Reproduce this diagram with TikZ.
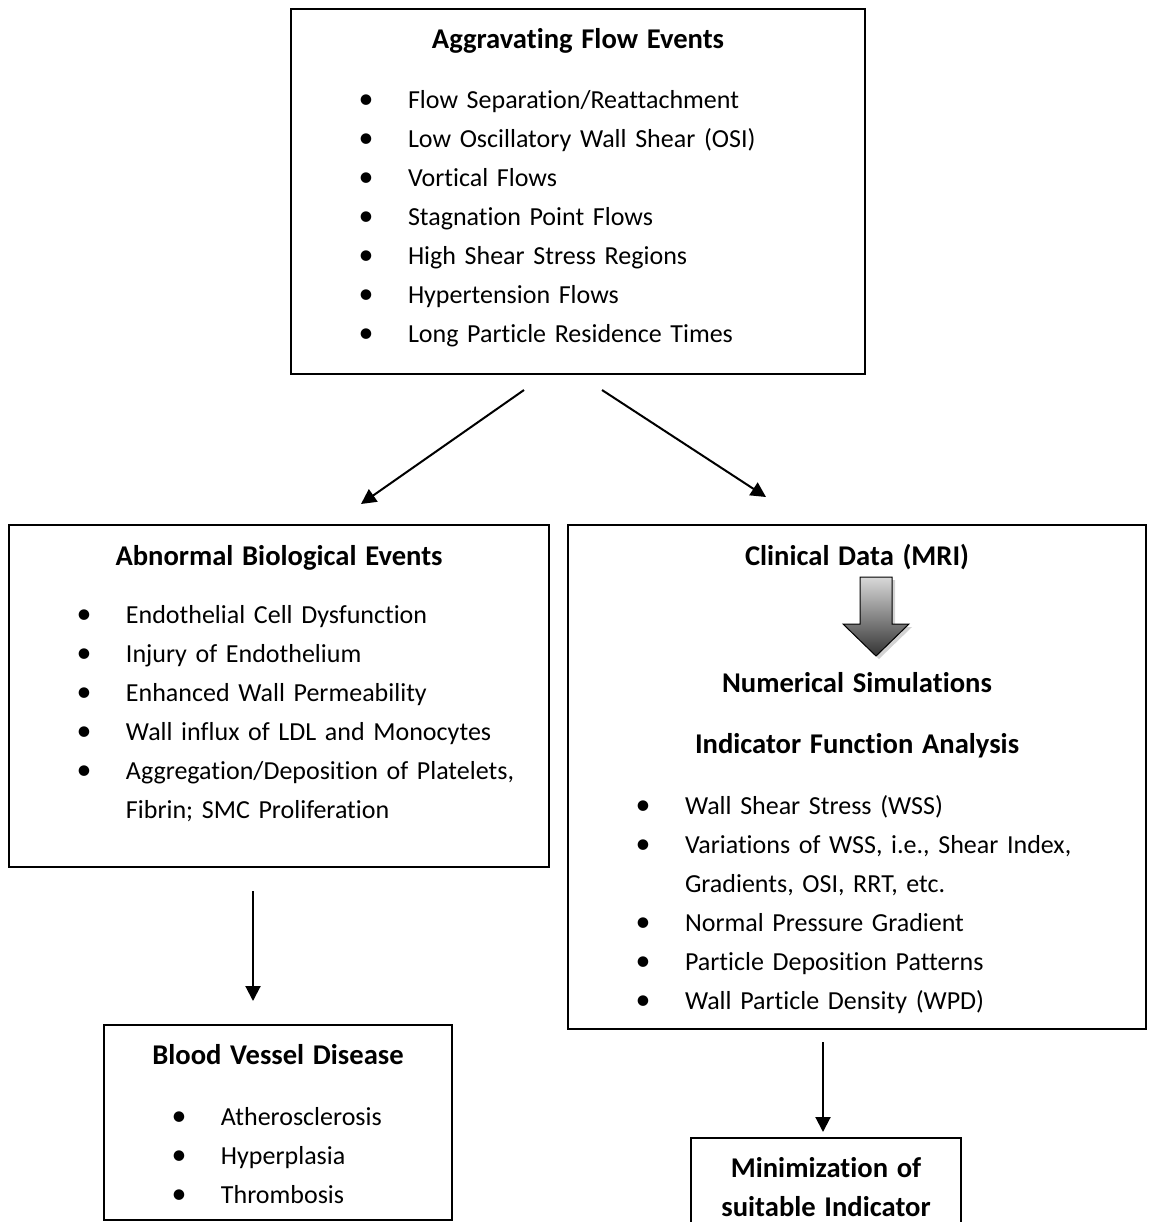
\documentclass[tikz,border=0pt]{standalone}
\usepackage{fontspec}
\setmainfont{Carlito}[Ligatures={NoCommon,NoRequired,NoContextual}]
\usetikzlibrary{arrows.meta,calc,shadows}

\newcommand{\boxtitle}[2]{{\centering\fontsize{14.3pt}{19.5pt}\selectfont\bfseries\rule{0pt}{#1}#2\par}}
\newcommand{\bitem}[1]{\par\noindent\hangindent=58.5pt\hangafter=1\hbox to 58.5pt{\hskip37.5pt\makebox[0pt]{\scalebox{1.15}{\textbullet}}\hfil}#1\par}
\newcommand{\boxend}[1]{\rule[-#1]{0pt}{#1}}

\tikzset{
  flowbox/.style={draw, line width=1pt, inner sep=0pt, anchor=north west,
    font={\fontsize{13pt}{19.5pt}\selectfont}},
  arr/.style={-{Triangle[length=7.5pt,width=7.5pt]}, line width=1pt},
  simarrow/.style={draw=black, line width=0.5pt, top color=black!15, bottom color=black!80,
    drop shadow={shadow xshift=1.5pt, shadow yshift=-1.5pt, opacity=0.35}}
}

\begin{document}
\begin{tikzpicture}[x=0.5pt, y=-0.5pt]
  \useasboundingbox (0,0) rectangle (1148,1222);

  \node[flowbox, text width=287pt] (flow) at (290,8)
  {
    \boxtitle{19.5pt}{Aggravating Flow Events}
    \vspace{10.5pt}
    \bitem{Flow Separation/Reattachment}
    \bitem{Low Oscillatory Wall Shear (OSI)}
    \bitem{Vortical Flows}
    \bitem{Stagnation Point Flows}
    \bitem{High Shear Stress Regions}
    \bitem{Hypertension Flows}
    \bitem{Long Particle Residence Times\boxend{16pt}}
  };

  \node[flowbox, text width=270pt] (bio) at (8,524)
  {
    \boxtitle{20pt}{Abnormal Biological Events}
    \vspace{9.5pt}
    \bitem{Endothelial Cell Dysfunction}
    \bitem{Injury of Endothelium}
    \bitem{Enhanced Wall Permeability}
    \bitem{Wall influx of LDL and Monocytes}
    \bitem{Aggregation/Deposition of Platelets,\newline Fibrin; SMC Proliferation\boxend{24.5pt}}
  };

  \node[flowbox, text width=289pt] (sim) at (567,524)
  {
    \boxtitle{20pt}{Clinical Data (MRI)}
    \vspace{44pt}
    \boxtitle{0pt}{Numerical Simulations}
    \vspace{11pt}
    \boxtitle{0pt}{Indicator Function Analysis}
    \vspace{11pt}
    \bitem{Wall Shear Stress (WSS)}
    \bitem{Variations of WSS, i.e., Shear Index,\newline Gradients, OSI, RRT, etc.}
    \bitem{Normal Pressure Gradient}
    \bitem{Particle Deposition Patterns}
    \bitem{Wall Particle Density (WPD)\boxend{10pt}}
  };

  \node[flowbox, text width=174pt] (blood) at (103,1024)
  {
    \boxtitle{19.5pt}{Blood Vessel Disease}
    \vspace{11pt}
    \bitem{Atherosclerosis}
    \bitem{Hyperplasia}
    \bitem{Thrombosis\boxend{8.5pt}}
  };

  \node[flowbox, text width=135pt] (mini) at (690,1137)
  {
    \boxtitle{19.5pt}{Minimization of\\suitable Indicator\boxend{15pt}}
  };

  % block arrow between clinical data and simulations
  \coordinate (mri) at ($(sim.north)+(19,53)$);
  \draw[simarrow] (mri) ++(-16,0) -- ++(32,0) -- ++(0,47) -- ++(17,0)
    -- ++(-33,32) -- ++(-33,-32) -- ++(17,0) -- cycle;

  \draw[arr] ($(flow.south)+(-54,15)$) -- ($(bio.north)+(82,-20)$);
  \draw[arr] ($(flow.south)+(24,15)$) -- ($(sim.north)+(-91,-27)$);
  \draw[arr] ($(bio.south)+(-26,23)$) -- ($(bio.south |- blood.north)+(-26,-23)$);
  \draw[arr] ($(sim.south)+(-34,12)$) -- ($(sim.south |- mini.north)+(-34,-5)$);
\end{tikzpicture}
\end{document}
